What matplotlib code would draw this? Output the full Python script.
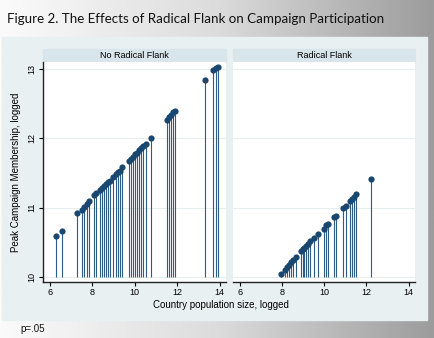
import numpy as np
import matplotlib.pyplot as plt
from matplotlib.patches import Rectangle
from matplotlib.colors import LinearSegmentedColormap

# log country population (x) and log peak campaign membership (y)
no_flank_pop = [6.27, 6.58, 7.28, 7.50, 7.63, 7.74, 7.85, 8.10, 8.18, 8.37, 8.47,
                8.56, 8.66, 8.74, 8.85, 9.00, 9.10, 9.19, 9.29, 9.40, 9.71, 9.81,
                9.90, 10.00, 10.09, 10.19, 10.30, 10.39, 10.52, 10.79, 11.53, 11.62,
                11.72, 11.81, 11.91, 13.33, 13.71, 13.83, 13.92]
no_flank_mem = [10.59, 10.67, 10.92, 10.97, 11.01, 11.05, 11.09, 11.18, 11.21, 11.26, 11.29,
                11.32, 11.34, 11.37, 11.39, 11.45, 11.48, 11.51, 11.53, 11.58, 11.68, 11.70,
                11.73, 11.77, 11.79, 11.83, 11.86, 11.89, 11.92, 12.01, 12.27, 12.31,
                12.34, 12.38, 12.40, 12.84, 12.98, 13.02, 13.03]

flank_pop = [7.96, 8.12, 8.23, 8.33, 8.43, 8.52, 8.66, 8.90, 8.98, 9.05, 9.13,
             9.21, 9.35, 9.52, 9.72, 9.97, 10.08, 10.17, 10.44, 10.56, 10.89,
             11.01, 11.20, 11.31, 11.42, 11.51, 12.21]
flank_mem = [10.05, 10.11, 10.15, 10.18, 10.22, 10.25, 10.29, 10.37, 10.40, 10.42, 10.45,
             10.48, 10.52, 10.56, 10.62, 10.70, 10.75, 10.77, 10.86, 10.88, 11.00,
             11.03, 11.10, 11.12, 11.16, 11.20, 11.41]

panels = ["No Radical Flank", "Radical Flank"]
xticks = [6, 8, 10, 12, 14]
yticks = [10, 11, 12, 13]

W, H = 434, 338
fig = plt.figure(figsize=(W / 100, H / 100), dpi=100)

# slide-style grey gradient behind everything
bg = fig.add_axes([0, 0, 1, 1])
grad = np.linspace(0, 1, 256)[None, :]
cmap = LinearSegmentedColormap.from_list("g", ["#fbfbfb", "#dcdcdc", "#9c9c9c"])
bg.imshow(grad, aspect="auto", cmap=cmap, extent=[0, W, H, 0])
bg.set_xlim(0, W)
bg.set_ylim(H, 0)
bg.axis("off")
bg.add_patch(Rectangle((2, 37), 425, 283, color="#e9f0f2", zorder=2))
bg.text(7, 19, "Figure 2. The Effects of Radical Flank on Campaign Participation",
        family="Lato", fontsize=9.6, va="center", ha="left", color="#111111")
bg.text(20, 329, "p=.05", family="Liberation Sans", fontsize=7, va="center", color="#111111")


def px_box(x0, x1, y0, y1):
    return [x0 / W, 1 - y1 / H, (x1 - x0) / W, (y1 - y0) / H]


navy = "#1a476f"
boxes = [(43, 226), (233, 415)]
data = [(no_flank_pop, no_flank_mem), (flank_pop, flank_mem)]

for i, ((x0, x1), (xs, ys), title) in enumerate(zip(boxes, data, panels)):
    # strip header
    bg.add_patch(Rectangle((x0, 49), x1 - x0, 13, color="#d8e5ea", zorder=3))
    bg.text((x0 + x1) / 2, 55.5, title, family="Liberation Sans", fontsize=6.5,
            ha="center", va="center", zorder=4)

    ax = fig.add_axes(px_box(x0, x1, 62, 282))
    ax.set_facecolor("white")
    ax.vlines(xs, 10, ys, color="#2d5b82", lw=0.8, zorder=2)
    ax.scatter(xs, ys, s=20, color=navy, zorder=3, linewidths=0)
    ax.set_xlim(5.68, 14.3)
    ax.set_ylim(9.93, 13.1)
    ax.set_xticks(xticks)
    ax.set_yticks(yticks)
    ax.grid(axis="y", color="#e6eef0", lw=0.8)
    ax.set_axisbelow(True)
    for s in ["top", "right"]:
        ax.spines[s].set_visible(False)
    ax.spines["bottom"].set_color("#222222")
    ax.spines["bottom"].set_linewidth(1.0)
    ax.tick_params(axis="x", labelsize=6.5, length=3, width=0.8, pad=1.5)
    for lab in ax.get_xticklabels():
        lab.set_family("Liberation Sans")
    if i == 0:
        ax.spines["left"].set_color("#222222")
        ax.spines["left"].set_linewidth(1.0)
        ax.tick_params(axis="y", labelsize=6.5, length=3, width=0.8, pad=1.5)
        for lab in ax.get_yticklabels():
            lab.set_family("Liberation Sans")
            lab.set_rotation(90)
            lab.set_va("center")
        ax.set_ylabel("Peak Campaign Membership, logged", family="Liberation Sans",
                      fontsize=7, labelpad=5)
    else:
        ax.spines["left"].set_visible(False)
        ax.tick_params(axis="y", left=False, labelleft=False)

bg.text(221, 305, "Country population size, logged", family="Liberation Sans",
        fontsize=7, ha="center", va="center", zorder=4)

fig.savefig("out.png", dpi=100)
